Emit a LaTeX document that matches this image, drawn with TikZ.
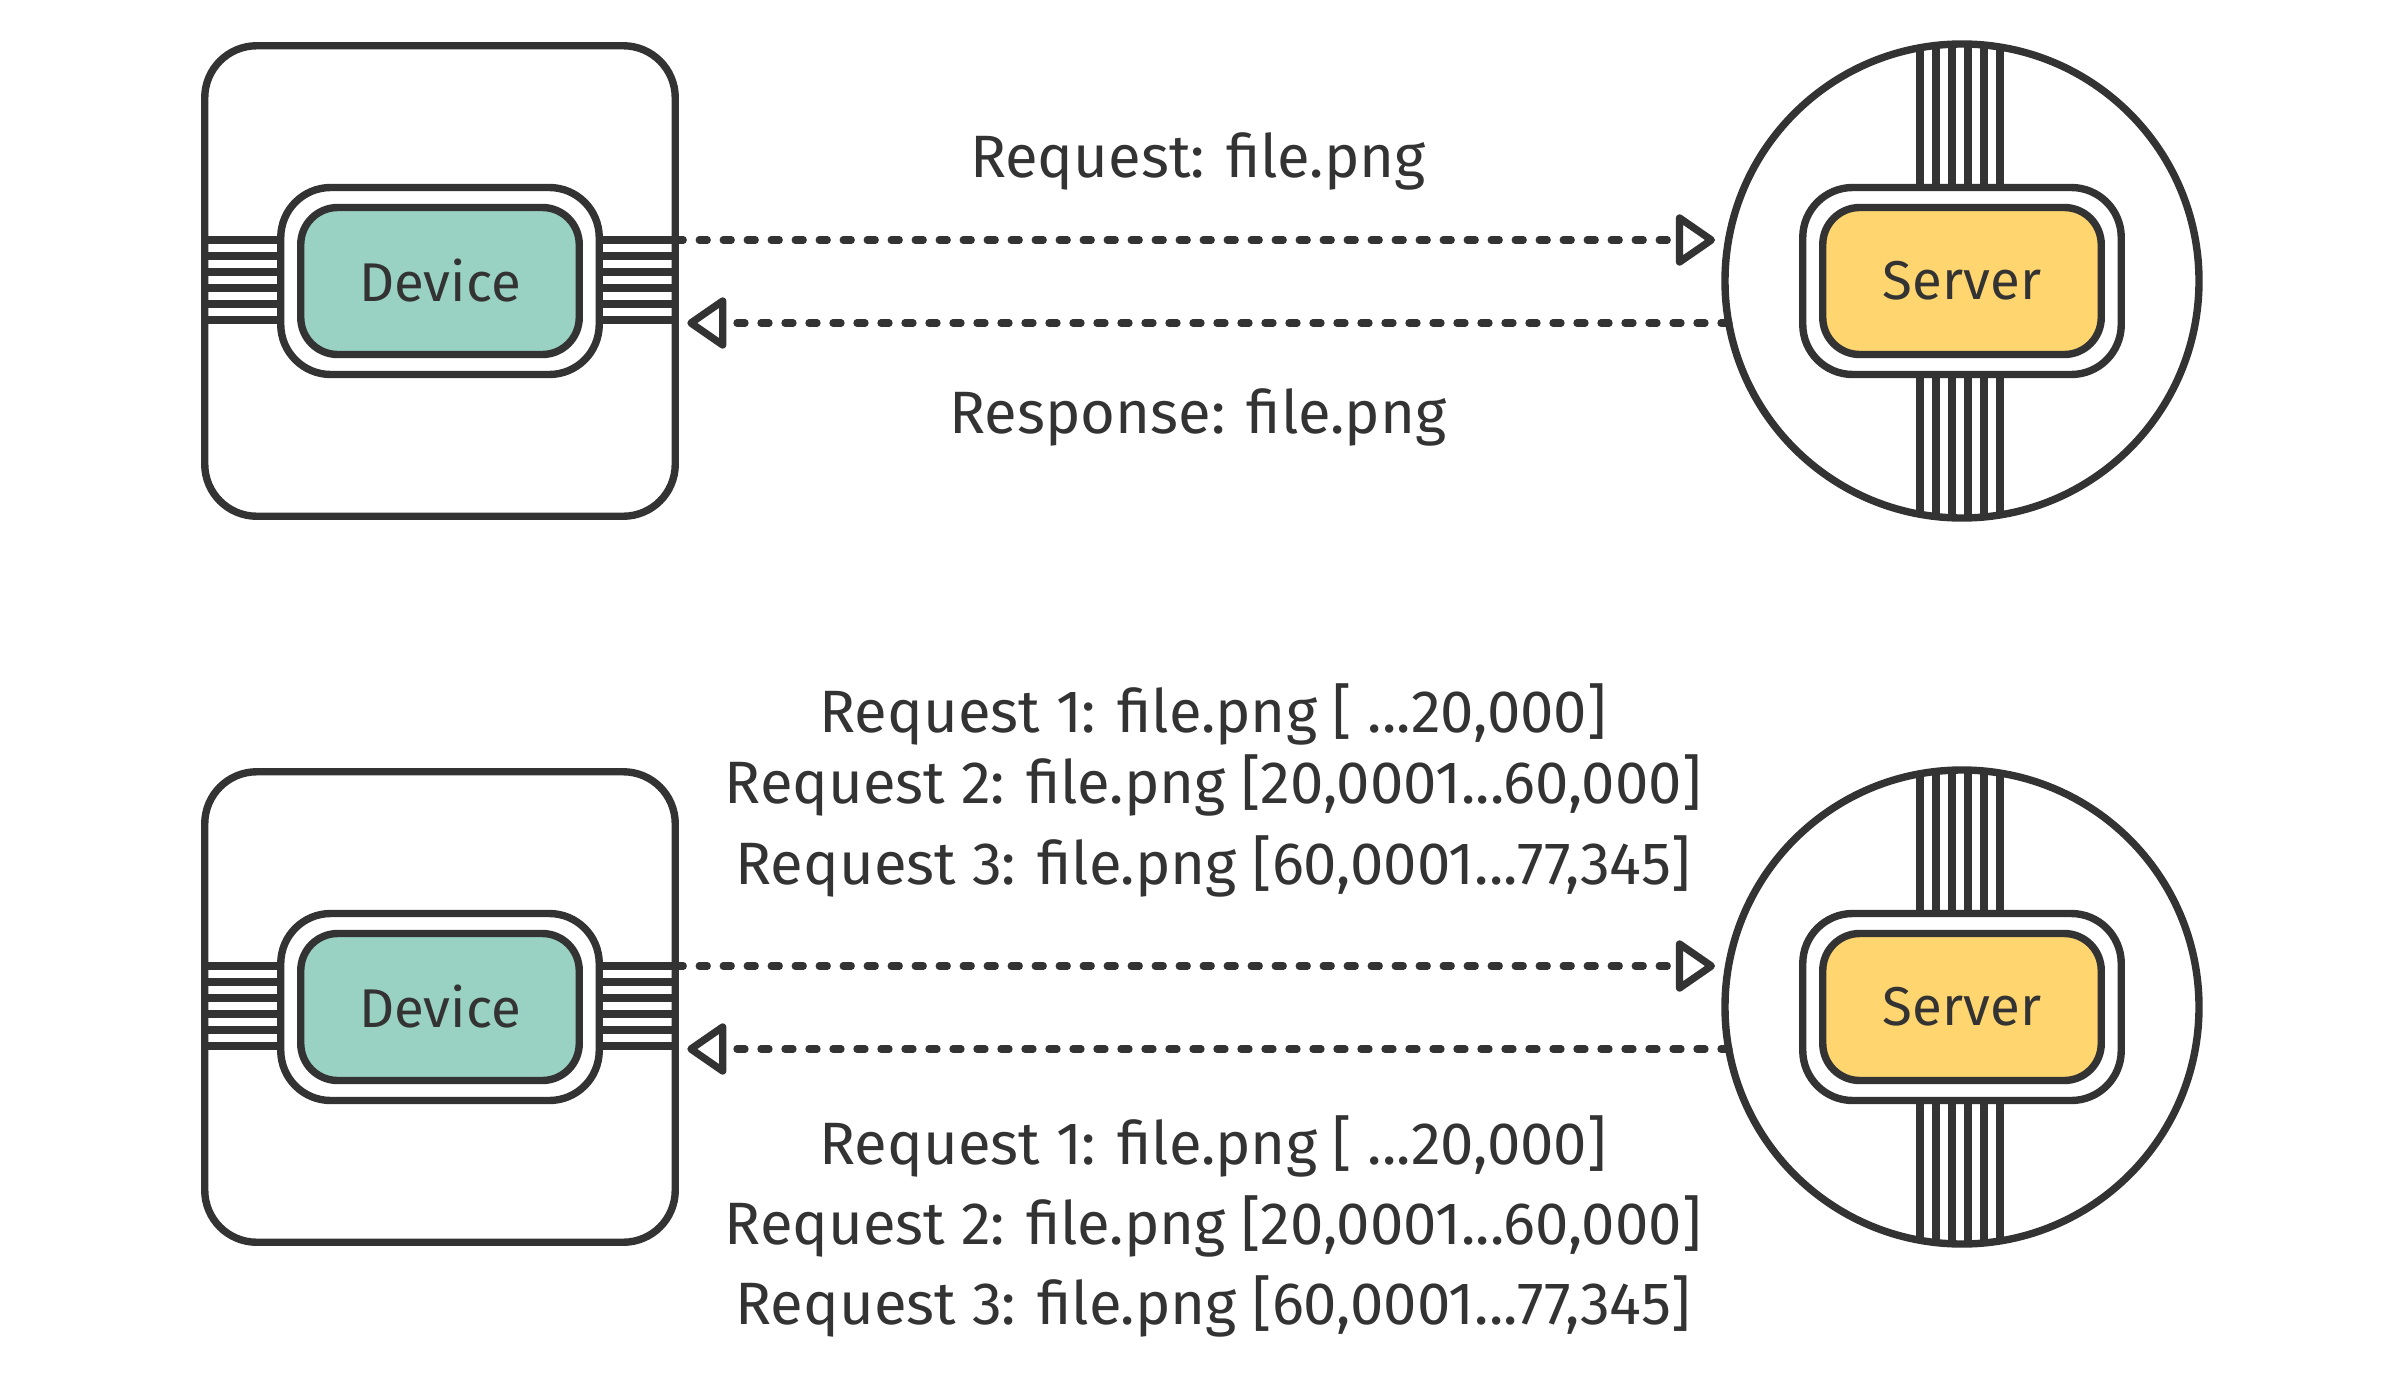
\documentclass[tikz,border=0pt]{standalone}
\usepackage{fontspec}
\setmainfont{Fira Sans}
\usetikzlibrary{arrows.meta,calc}
\definecolor{ink}{HTML}{333333}
\definecolor{devgreen}{HTML}{99D1C2}
\definecolor{srvyellow}{HTML}{FED56F}
\tikzset{
  stroke/.style={draw=ink, line width=3.7pt},
  outerbox/.style={stroke, fill=white, rounded corners=26pt, minimum width=235.25pt, minimum height=235.25pt, inner sep=0pt, outer sep=0pt},
  framebox/.style={stroke, fill=white, rounded corners=25pt, minimum width=159.25pt, minimum height=93.5pt, inner sep=0pt, outer sep=0pt},
  devbox/.style={stroke, fill=devgreen, rounded corners=18.5pt, minimum width=139.25pt, minimum height=73.5pt, inner sep=0pt, outer sep=0pt, text=ink, font=\fontsize{27.3pt}{30pt}\selectfont},
  srvbox/.style={devbox, fill=srvyellow},
  srvcircle/.style={stroke, fill=white, circle, minimum size=237pt, inner sep=0pt, outer sep=0pt},
  stripe/.style={draw=ink, line width=4pt},
  dotarrow/.style={draw=ink, line width=3.65pt, line cap=round, dash pattern=on 4pt off 8pt, -{Triangle[open,round,length=21pt,width=28pt]}},
  lbl/.style={text=ink, anchor=base, inner sep=0pt, font=\fontsize{29.9pt}{35pt}\selectfont}
}
\newcommand\DrawRow[2]{%
  \node[outerbox] (dev#1) at (440,#2) {};
  \foreach \k in {0,...,5}{
    \draw[stripe] (204.5,{#2-41+16*\k}) -- (280.5,{#2-41+16*\k});
    \draw[stripe] (599,{#2-41+16*\k}) -- (675.5,{#2-41+16*\k});
  }
  \node[framebox] (devframe#1) at (440,#2) {};
  \node[devbox] (devbox#1) at (440,#2) {Device};
  \node[srvcircle] (srv#1) at (1962,#2) {};
  \begin{scope}
    \clip (1962,#2) circle[radius=118.5pt];
    \foreach \k in {0,...,5}{
      \draw[stripe] ({1920+16*\k},{#2-250}) -- ({1920+16*\k},{#2-93});
      \draw[stripe] ({1920+16*\k},{#2+93}) -- ({1920+16*\k},{#2+250});
    }
  \end{scope}
  \node[framebox] (srvframe#1) at (1962,#2) {};
  \node[srvbox] (srvbox#1) at (1962,#2) {Server};
  \draw[dotarrow] ([yshift=20.5pt]dev#1.east) -- ([xshift=-5pt,yshift=20.5pt]srv#1.west);
  \draw[dotarrow] ([xshift=2pt,yshift=-21pt]srv#1.west) -- ([xshift=6pt,yshift=-21pt]dev#1.east);
}
\begin{document}
\begin{tikzpicture}[x=0.5pt,y=-0.5pt]
\useasboundingbox (0,0) rectangle (2400,1392);
\fill[white] (0,0) rectangle (2400,1392);
\DrawRow{a}{281}
\DrawRow{b}{1007}
\node[lbl] (reqa) at (1198,177) {Request: file.png};
\node[lbl] (resa) at (1198,433) {Response: file.png};
\node[lbl] (rq1) at (1213,732) {Request 1: file.png [ ...20,000]};
\node[lbl] (rq2) at (1213,803) {Request 2: file.png [20,0001...60,000]};
\node[lbl] (rq3) at (1213,884) {Request 3: file.png [60,0001...77,345]};
\node[lbl] (rs1) at (1213,1164) {Request 1: file.png [ ...20,000]};
\node[lbl] (rs2) at (1213,1244) {Request 2: file.png [20,0001...60,000]};
\node[lbl] (rs3) at (1213,1324) {Request 3: file.png [60,0001...77,345]};
\end{tikzpicture}
\end{document}
